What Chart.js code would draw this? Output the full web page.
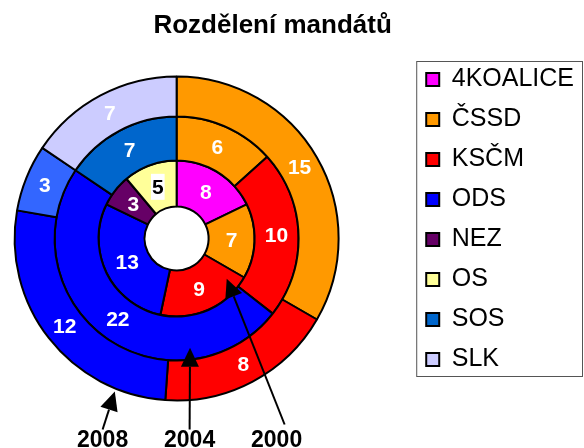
<!DOCTYPE html>
<html>
<head>
<meta charset="utf-8">
<script src="https://cdn.jsdelivr.net/npm/chart.js"></script>
<style>
	html, body { margin: 0; padding: 0; background: #fff; overflow: hidden; }
	#wrap { position: absolute; left: -58px; top: 0; width: 642px; height: 448px; }
</style>
</head>
<body>
<div id="wrap"><canvas id="chart-seats"></canvas></div>
<script>
const parties = ['4KOALICE', 'ČSSD', 'KSČM', 'ODS', 'NEZ', 'OS', 'SOS', 'SLK'];
const years = ['2008', '2004', '2000'];
const seats2008 = [0, 15, 8, 12, 0, 0, 3, 7];
const seats2004 = [0, 6, 10, 22, 0, 0, 7, 0];
const seats2000 = [8, 7, 9, 13, 3, 5, 0, 0];

const partyColors = ['#FF00FF', '#FF9900', '#FF0000', '#0000FF', '#660066', '#FFFF99', '#0066CC', '#CCCCFF'];
// in 2008 the SOS slice is drawn lighter
const colors2008 = partyColors.map((c, i) => i === 6 ? '#3366FF' : c);

const FONT = "'Liberation Sans', Arial, sans-serif";

const valueLabels = {
	id: 'valueLabels',
	afterDatasetsDraw(chart) {
		const ctx = chart.ctx;
		ctx.save();
		ctx.font = 'bold 21px ' + FONT;
		ctx.textAlign = 'center';
		ctx.textBaseline = 'middle';
		chart.data.datasets.forEach((ds, di) => {
			chart.getDatasetMeta(di).data.forEach((arc, i) => {
				const v = ds.data[i];
				if (!v) return;
				const p = arc.getCenterPoint();
				if (parties[i] === 'OS') {
					const w = ctx.measureText(String(v)).width;
					ctx.fillStyle = '#fff';
					ctx.fillRect(p.x - w / 2 - 1, p.y - 13, w + 2, 26);
					ctx.fillStyle = '#000';
				} else {
					ctx.fillStyle = '#fff';
				}
				ctx.fillText(String(v), p.x, p.y + 1);
			});
		});
		ctx.restore();
	}
};

function arrow(ctx, x0, y0, x1, y1) {
	const a = Math.atan2(y1 - y0, x1 - x0);
	const len = 19, half = 9;
	const bx = x1 - len * Math.cos(a), by = y1 - len * Math.sin(a);
	ctx.beginPath();
	ctx.moveTo(x0, y0);
	ctx.lineTo(bx, by);
	ctx.stroke();
	ctx.beginPath();
	ctx.moveTo(x1, y1);
	ctx.lineTo(bx + half * Math.sin(a), by - half * Math.cos(a));
	ctx.lineTo(bx - half * Math.sin(a), by + half * Math.cos(a));
	ctx.closePath();
	ctx.fill();
}

const decorations = {
	id: 'decorations',
	afterDraw(chart) {
		const ctx = chart.ctx;
		const rings = [0, 1, 2].map(i => chart.getDatasetMeta(i).data[1]);
		const cx = rings[0].x, cy = rings[0].y;
		const polar = (deg, r) => {
			const a = deg * Math.PI / 180;
			return [cx + r * Math.sin(a), cy - r * Math.cos(a)];
		};
		const ringR = (i, f) => rings[i].innerRadius + (rings[i].outerRadius - rings[i].innerRadius) * f;

		ctx.save();
		// title
		ctx.fillStyle = '#000';
		ctx.font = 'bold 26px ' + FONT;
		ctx.textAlign = 'center';
		ctx.textBaseline = 'middle';
		ctx.fillText('Rozdělení mandátů', cx + 96, 26);

		// year pointers
		const tips = [polar(202, rings[0].outerRadius + 3), polar(173, ringR(1, 0.73)), polar(128.7, ringR(2, 0.7))];
		const labelDx = [-74, 13, 100];
		const lineEnd = [[-74, 191], [13, 191], [108, 186]];
		ctx.strokeStyle = '#000';
		ctx.lineWidth = 2;
		years.forEach((y, i) => {
			arrow(ctx, cx + lineEnd[i][0], cy + lineEnd[i][1], tips[i][0], tips[i][1]);
			ctx.font = 'bold 23px ' + FONT;
			ctx.fillText(y, cx + labelDx[i], cy + 202);
		});

		// legend frame
		const hb = chart.legend.legendHitBoxes;
		if (hb && hb.length) {
			const last = hb[hb.length - 1];
			ctx.strokeStyle = '#555';
			ctx.lineWidth = 1;
			ctx.strokeRect(hb[0].left - 9.5, hb[0].top - 5.5, chart.width - hb[0].left + 8, last.top + last.height - hb[0].top + 10);
		}
		ctx.restore();
	}
};

const config = {
	type: 'doughnut',
	data: {
		labels: parties,
		datasets: [
			{ label: years[0], data: seats2008, backgroundColor: colors2008, weight: 40 },
			{ label: years[1], data: seats2004, backgroundColor: partyColors, weight: 44 },
			{ label: years[2], data: seats2000, backgroundColor: partyColors, weight: 46 },
		],
	},
	options: {
		responsive: true,
		maintainAspectRatio: false,
		animation: false,
		radius: 162,
		cutout: '19.75%',
		borderColor: '#000',
		borderWidth: 2,
		layout: {
			padding: { top: 52, bottom: 23, left: 0, right: 0 }
		},
		plugins: {
			title: { display: false },
			tooltip: { enabled: false },
			legend: {
				position: 'right',
				align: 'start',
				labels: {
					boxWidth: 13,
					boxHeight: 13,
					padding: 15,
					color: '#000',
					font: { family: FONT, size: 25 },
					generateLabels: (chart) => parties.map((p, i) => ({
						text: p,
						fillStyle: partyColors[i],
						strokeStyle: '#000',
						lineWidth: 2,
						hidden: false,
						index: i,
					})),
				},
			},
		},
	},
	plugins: [valueLabels, decorations],
};

const chartSeats = new Chart(document.getElementById('chart-seats'), config);
</script>
</body>
</html>
